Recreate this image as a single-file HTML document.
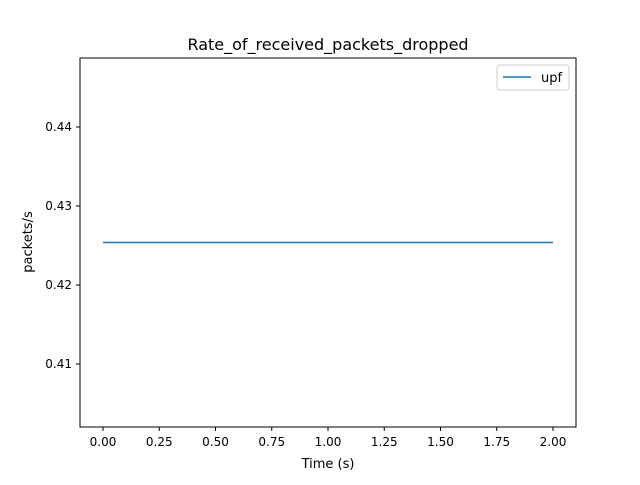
<!DOCTYPE html>
<html><head><meta charset="utf-8"><style>
body{margin:0;background:#fff;font-family:"Liberation Sans","DejaVu Sans",sans-serif;}
svg text{font-family:"DejaVu Sans","Liberation Sans",sans-serif;}
</style></head><body>
<svg id="chart" width="640" height="480" xmlns="http://www.w3.org/2000/svg">
<rect width="640" height="480" fill="#fff"/>
<text x="328" y="50" text-anchor="middle" font-size="16">Rate_of_received_packets_dropped</text>
<g id="axes"></g>
<rect x="80" y="58" width="496" height="369" fill="none" stroke="#000" stroke-width="1"/>
<text x="328" y="468" text-anchor="middle" font-size="13">Time (s)</text>
<text transform="translate(32,242) rotate(-90)" text-anchor="middle" font-size="13">packets/s</text>
<g>
<rect x="497" y="65" width="72" height="25" rx="3" fill="#fff" stroke="#ccc"/>
<line x1="503" y1="77" x2="531" y2="77" stroke="#1f77b4" stroke-width="1.5"/>
<text x="541" y="82" font-size="13">upf</text>
</g>
</svg>
<script>
const xTicks=[0,0.25,0.5,0.75,1.0,1.25,1.5,1.75,2.0];
const xTickLabels=["0.00","0.25","0.50","0.75","1.00","1.25","1.50","1.75","2.00"];
const yTicks=[0.41,0.42,0.43,0.44];
const yTickLabels=["0.41","0.42","0.43","0.44"];
const times=[0,1,2];
const upf=[0.42538,0.42538,0.42538];
const NS="http://www.w3.org/2000/svg";
const g=document.getElementById('axes');
const svg=document.getElementById('chart');
function sx(v){return 103+v*225;}
function sy(v){return 285-(v-0.42)*7900;}
function mk(t,a){const e=document.createElementNS(NS,t);for(const k in a)e.setAttribute(k,a[k]);return e;}
xTicks.forEach((v,i)=>{
 const l=mk('line',{x1:sx(v),x2:sx(v),y1:427,y2:431,stroke:'#000'});
 
 
 g.appendChild(l);
 const t=mk('text',{x:sx(v),y:446,'text-anchor':'middle','font-size':12});
 
 
 t.textContent=xTickLabels[i];g.appendChild(t);
});
yTicks.forEach((v,i)=>{
 const l=mk('line',{x1:76,x2:80,y1:sy(v),y2:sy(v),stroke:'#000'});
 
 
 g.appendChild(l);
 const t=mk('text',{x:72,y:sy(v)+4,'text-anchor':'end','font-size':12});
 
 
 t.textContent=yTickLabels[i];g.appendChild(t);
});
const p=mk('polyline',{points:times.map((x,i)=>sx(x)+','+sy(upf[i])).join(' '),fill:'none',stroke:'#1f77b4','stroke-width':1.5});


g.appendChild(p);
</script>
</body></html>
